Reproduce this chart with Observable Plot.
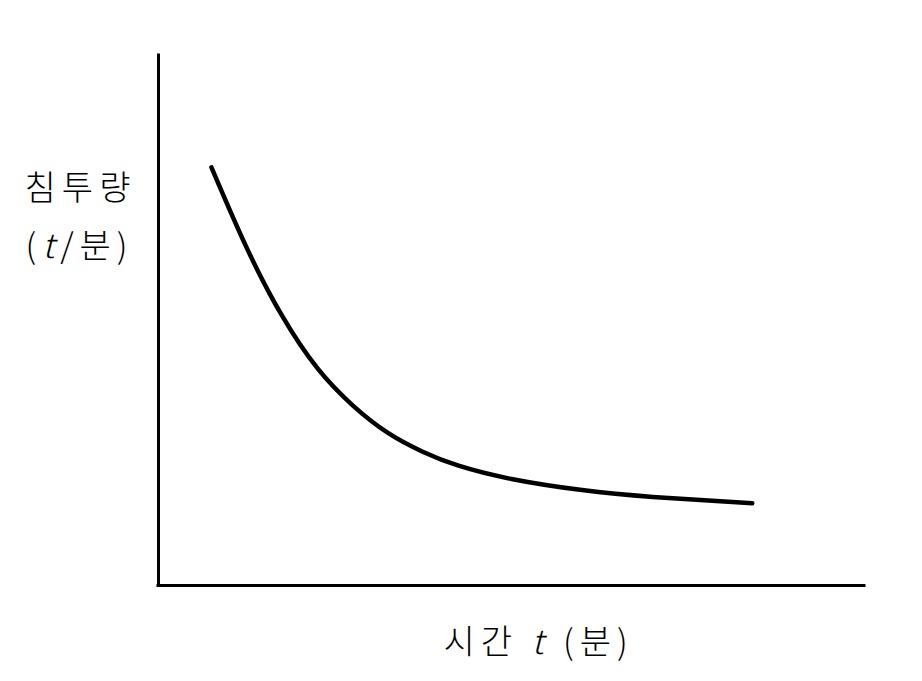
<!DOCTYPE html>
<html>
<head>
<meta charset="utf-8">
<script src="https://cdn.jsdelivr.net/npm/d3@7"></script>
<script src="https://cdn.jsdelivr.net/npm/@observablehq/plot@0.6"></script>
<style>
  html, body { margin: 0; padding: 0; background: #fff; }
</style>
</head>
<body>
<div id="chart"></div>
<script>
// time t (arbitrary units) and infiltration rate (arbitrary units)
const time = [0.75, 1.25, 1.75, 2.25, 2.75, 3.25, 3.75, 4.25, 5.0, 6.0, 7.0, 8.41];
const rate = [7.89, 6.37, 5.09, 4.10, 3.40, 2.88, 2.52, 2.26, 2.01, 1.80, 1.67, 1.55];
const yLabelLines = ["침투량", "(t/분)"];
const xLabel = "시간 t (분)";

const data = time.map((t, i) => ({t, r: rate[i]}));
const font = "'Noto Sans CJK KR', 'Noto Sans', sans-serif";
const labelStyle = {fontSize: 34, fontWeight: 300, fill: "#000", textAnchor: "middle", lineAnchor: "middle", text: d => d};

const chart = Plot.plot({
  width: 922,
  height: 681,
  marginLeft: 158,
  marginRight: 58,
  marginTop: 55,
  marginBottom: 96,
  x: {domain: [0, 10], axis: null},
  y: {domain: [0, 10], axis: null},
  style: {fontFamily: font, background: "#fff"},
  marks: [
    Plot.ruleX([0], {stroke: "#000", strokeWidth: 3, strokeLinecap: "square"}),
    Plot.ruleY([0], {stroke: "#000", strokeWidth: 3, strokeLinecap: "square"}),
    Plot.line(data, {x: "t", y: "r", curve: "natural", stroke: "#000", strokeWidth: 4.5}),
    Plot.text([yLabelLines[0]], {...labelStyle, frameAnchor: "top-left", dx: -78, dy: 134}),
    Plot.text([yLabelLines[1]], {...labelStyle, frameAnchor: "top-left", dx: -79, dy: 192}),
    Plot.text([xLabel], {...labelStyle, frameAnchor: "bottom-left", dx: 380, dy: 58})
  ]
});
document.getElementById("chart").appendChild(chart);

// italicise the variable "t" in the labels and widen letter spacing
d3.select(chart).selectAll("text").each(function() {
  const s = this.textContent;
  const el = d3.select(this).attr("letter-spacing", 6);
  const i = s.indexOf("t");
  if (i < 0) return;
  el.text(null);
  el.append("tspan").text(s.slice(0, i));
  el.append("tspan").attr("font-style", "italic").text("t");
  el.append("tspan").text(s.slice(i + 1));
});
</script>
</body>
</html>
